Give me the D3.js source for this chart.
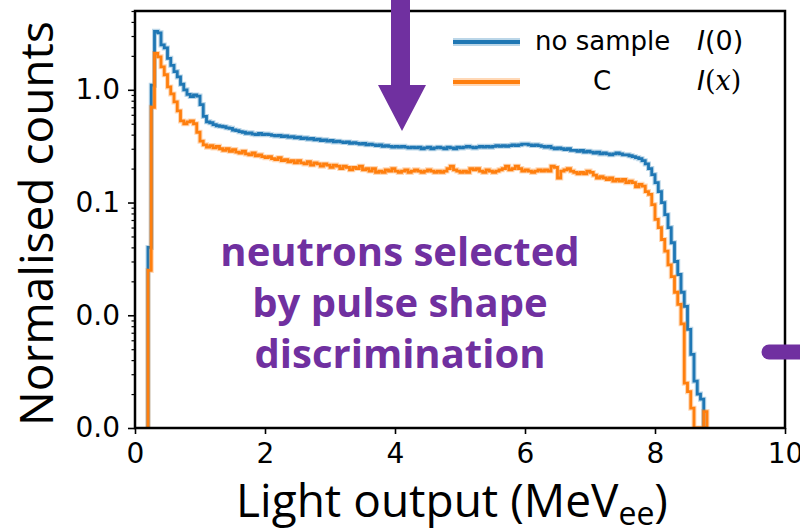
<!DOCTYPE html>
<html>
<head>
<meta charset="utf-8">
<script src="https://cdn.jsdelivr.net/npm/d3@7"></script>
<style>
  body { margin: 0; background: #fff; }
  svg { display: block; }
</style>
</head>
<body>
<div id="chart"></div>
<script>
// histogram bins: 0.05 MeVee wide, first bin starts at 0.2
const binStart = 0.2
const binWidth = 0.05

// no sample, I(0)
const noSample = [
  0.04, 1.1, 3.3, 3.2, 2.5, 2.35, 1.9, 1.65, 1.45, 1.3,
  1.12, 1.0, 0.91, 0.87, 0.9, 0.88, 0.74, 0.58, 0.52, 0.51,
  0.49, 0.48, 0.475, 0.47, 0.46, 0.455, 0.44, 0.435, 0.425, 0.42,
  0.41, 0.415, 0.405, 0.40, 0.41, 0.40, 0.405, 0.40, 0.395, 0.39,
  0.395, 0.385, 0.39, 0.38, 0.385, 0.375, 0.38, 0.37, 0.375, 0.365,
  0.37, 0.36, 0.365, 0.355, 0.36, 0.35, 0.355, 0.345, 0.35, 0.345,
  0.34, 0.345, 0.335, 0.34, 0.335, 0.33, 0.335, 0.325, 0.33, 0.325,
  0.32, 0.325, 0.315, 0.32, 0.315, 0.31, 0.315, 0.31, 0.315, 0.31,
  0.305, 0.31, 0.305, 0.31, 0.30, 0.305, 0.31, 0.30, 0.305, 0.31,
  0.305, 0.30, 0.31, 0.305, 0.30, 0.31, 0.305, 0.31, 0.315, 0.31,
  0.305, 0.31, 0.315, 0.31, 0.315, 0.31, 0.315, 0.32, 0.315, 0.32,
  0.315, 0.32, 0.325, 0.32, 0.325, 0.33, 0.33, 0.325, 0.32, 0.325,
  0.32, 0.315, 0.31, 0.315, 0.305, 0.30, 0.305, 0.30, 0.295, 0.30,
  0.29, 0.29, 0.285, 0.29, 0.28, 0.285, 0.28, 0.275, 0.28, 0.27,
  0.275, 0.27, 0.265, 0.27, 0.275, 0.27, 0.265, 0.265, 0.26, 0.255,
  0.25, 0.245, 0.235, 0.22, 0.2, 0.177, 0.15, 0.125, 0.1, 0.078,
  0.06, 0.044, 0.03, 0.023, 0.016, 0.012, 0.0075, 0.0045, 0.0026, 0.002,
  0.0018, 0
]

// carbon sample, I(x)
const carbon = [
  0.025, 0.7, 2.1, 1.96, 1.6, 1.36, 1.06, 0.92, 0.78, 0.65,
  0.53, 0.5, 0.52, 0.53, 0.5, 0.42, 0.35, 0.325, 0.31, 0.32,
  0.305, 0.315, 0.30, 0.29, 0.30, 0.285, 0.295, 0.28, 0.275, 0.285,
  0.27, 0.265, 0.275, 0.26, 0.265, 0.255, 0.25, 0.255, 0.245, 0.24,
  0.25, 0.235, 0.24, 0.23, 0.235, 0.225, 0.235, 0.225, 0.22, 0.23,
  0.215, 0.225, 0.22, 0.21, 0.22, 0.215, 0.205, 0.215, 0.21, 0.2,
  0.21, 0.205, 0.195, 0.205, 0.2, 0.21, 0.195, 0.2, 0.19, 0.2,
  0.185, 0.19, 0.185, 0.195, 0.19, 0.2, 0.19, 0.185, 0.19, 0.195,
  0.185, 0.19, 0.195, 0.19, 0.185, 0.19, 0.195, 0.19, 0.185, 0.19,
  0.185, 0.19, 0.2, 0.21, 0.195, 0.19, 0.185, 0.19, 0.185, 0.2,
  0.195, 0.2, 0.19, 0.185, 0.195, 0.19, 0.185, 0.19, 0.195, 0.2,
  0.21, 0.195, 0.2, 0.21, 0.2, 0.19, 0.195, 0.19, 0.185, 0.19,
  0.195, 0.19, 0.195, 0.19, 0.21, 0.205, 0.165, 0.19, 0.195, 0.2,
  0.19, 0.185, 0.18, 0.185, 0.18, 0.19, 0.185, 0.175, 0.165, 0.17,
  0.165, 0.16, 0.165, 0.155, 0.16, 0.155, 0.16, 0.15, 0.155, 0.15,
  0.138, 0.145, 0.14, 0.125, 0.118, 0.096, 0.071, 0.06, 0.047, 0.037,
  0.028, 0.022, 0.016, 0.0125, 0.0084, 0.0025, 0.0021, 0.0015, 0, 0,
  0, 0.0014
]

const xTicks = [0, 2, 4, 6, 8, 10]
const yTicks = [1, 0.1, 0.01, 0.001]
const legendNames = ["no sample", "C"]
const legendSymbols = ["0", "x"]
const noteLines = ["neutrons selected", "by pulse shape", "discrimination"]

const colors = ["#1f77b4", "#ff7f0e"]
const purple = "#7030a0"

var width = 800
var height = 532
var margin = { top: 11, right: 15, bottom: 104, left: 135 }
var innerW = width - margin.left - margin.right
var innerH = height - margin.top - margin.bottom

var svg = d3.select("#chart")
  .append("svg")
  .attr("width", width)
  .attr("height", height)

var x = d3.scaleLinear()
  .domain([0, 10])
  .range([margin.left, margin.left + innerW])

var y = d3.scaleLog()
  .domain([0.001, 5])
  .range([margin.top + innerH, margin.top])
  .clamp(true)

svg.append("clipPath")
  .attr("id", "plotClip")
  .append("rect")
  .attr("x", margin.left)
  .attr("y", margin.top)
  .attr("width", innerW)
  .attr("height", innerH)

// step outline like matplotlib histtype='step'
function stepPoints(values) {
  const yMin = y.domain()[0]
  const pts = [[x(binStart), y(yMin)]]
  values.forEach(function (v, i) {
    const x0 = binStart + i * binWidth
    const yy = y(Math.max(v, yMin))
    pts.push([x(x0), yy])
    pts.push([x(x0 + binWidth), yy])
  })
  pts.push([x(binStart + values.length * binWidth), y(yMin)])
  return pts
}

var lines = svg.append("g").attr("clip-path", "url(#plotClip)")
var line = d3.line()

;[noSample, carbon].forEach(function (series, k) {
  lines.append("path")
    .attr("d", line(stepPoints(series)))
    .style("fill", "none")
    .style("stroke", colors[k])
    .style("stroke-opacity", 0.3)
    .style("stroke-width", "5px")
  lines.append("path")
    .attr("d", line(stepPoints(series)))
    .style("fill", "none")
    .style("stroke", colors[k])
    .style("stroke-width", "2.8px")
})

// axes
var xAxis = svg.append("g")
  .attr("transform", "translate(0," + (margin.top + innerH) + ")")
  .call(d3.axisBottom(x).tickValues(xTicks).tickSize(6).tickPadding(9).tickFormat(d3.format("d")))
xAxis.select(".domain").remove()

var yAxis = svg.append("g")
  .attr("transform", "translate(" + margin.left + ",0)")
  .call(d3.axisLeft(y).tickValues(yTicks).tickSize(7).tickPadding(8).tickFormat(d3.format(".1f")))
yAxis.select(".domain").remove()

var minorTicks = y.ticks().filter(function (d) {
  return Math.abs(Math.log10(d) - Math.round(Math.log10(d))) > 1e-6
})
var yMinor = svg.append("g")
  .attr("transform", "translate(" + margin.left + ",0)")
  .call(d3.axisLeft(y).tickValues(minorTicks).tickSize(3.5).tickFormat(""))
yMinor.select(".domain").remove()

;[xAxis, yAxis, yMinor].forEach(function (g) {
  g.selectAll("line").style("stroke", "#000").style("stroke-width", "1.6px")
  g.selectAll("text")
    .style("font-family", "DejaVu Sans")
    .style("font-size", "28px")
    .style("fill", "#000")
})
yMinor.selectAll("line").style("stroke-width", "1.2px")

// frame
svg.append("rect")
  .attr("x", margin.left)
  .attr("y", margin.top)
  .attr("width", innerW)
  .attr("height", innerH)
  .style("fill", "none")
  .style("stroke", "#000")
  .style("stroke-width", "2.5px")

// axis titles
svg.append("text")
  .attr("transform", "translate(53," + (margin.top + innerH / 2 + 4) + ") rotate(-90)")
  .style("text-anchor", "middle")
  .style("font-family", "Open Sans")
  .style("font-size", "46px")
  .style("fill", "#000")
  .text("Normalised counts")

var xTitle = svg.append("text")
  .attr("x", 452)
  .attr("y", 517)
  .style("text-anchor", "middle")
  .style("font-family", "Open Sans")
  .style("font-size", "46px")
  .style("fill", "#000")
xTitle.append("tspan").text("Light output (MeV")
xTitle.append("tspan").attr("dy", 8).style("font-size", "32px").text("ee")
xTitle.append("tspan").attr("dy", -8).text(")")

// legend
var legend = svg.append("g")
legendNames.forEach(function (name, i) {
  const ly = 42 + i * 40
  legend.append("line")
    .attr("x1", 453).attr("x2", 520).attr("y1", ly).attr("y2", ly)
    .style("stroke", colors[i]).style("stroke-opacity", 0.3).style("stroke-width", "8px")
  legend.append("line")
    .attr("x1", 453).attr("x2", 520).attr("y1", ly).attr("y2", ly)
    .style("stroke", colors[i]).style("stroke-width", "4px")
  legend.append("text")
    .attr("x", i == 0 ? 535 : 602)
    .attr("y", ly + 8)
    .style("text-anchor", i == 0 ? "start" : "middle")
    .style("font-family", "DejaVu Sans")
    .style("font-size", "26px")
    .text(name)
  const sym = legend.append("text")
    .attr("x", 697)
    .attr("y", ly + 8)
    .style("font-family", "DejaVu Sans")
    .style("font-size", "27px")
  sym.append("tspan").style("font-style", "italic").text("I")
  if (i == 0) {
    sym.append("tspan").text("(" + legendSymbols[i] + ")")
  } else {
    sym.append("tspan").style("font-family", "DejaVu Serif").text("(")
    sym.append("tspan").style("font-family", "DejaVu Serif").style("font-style", "italic").text(legendSymbols[i])
    sym.append("tspan").style("font-family", "DejaVu Serif").text(")")
  }
})

// purple annotation
noteLines.forEach(function (t, i) {
  svg.append("text")
    .attr("x", 400)
    .attr("y", 266 + i * 51)
    .style("text-anchor", "middle")
    .style("font-family", "Open Sans")
    .style("font-weight", "bold")
    .style("font-size", "40px")
    .style("fill", purple)
    .text(t)
})

// arrow from the top
svg.append("path")
  .attr("d", "M391,0 L410,0 L410,85 L426,85 L402,131 L378,85 L391,85 Z")
  .style("fill", purple)

// bar at the right edge
svg.append("line")
  .attr("x1", 769).attr("x2", 812).attr("y1", 352).attr("y2", 352)
  .style("stroke", purple)
  .style("stroke-width", "15px")
  .style("stroke-linecap", "round")
</script>
</body>
</html>
